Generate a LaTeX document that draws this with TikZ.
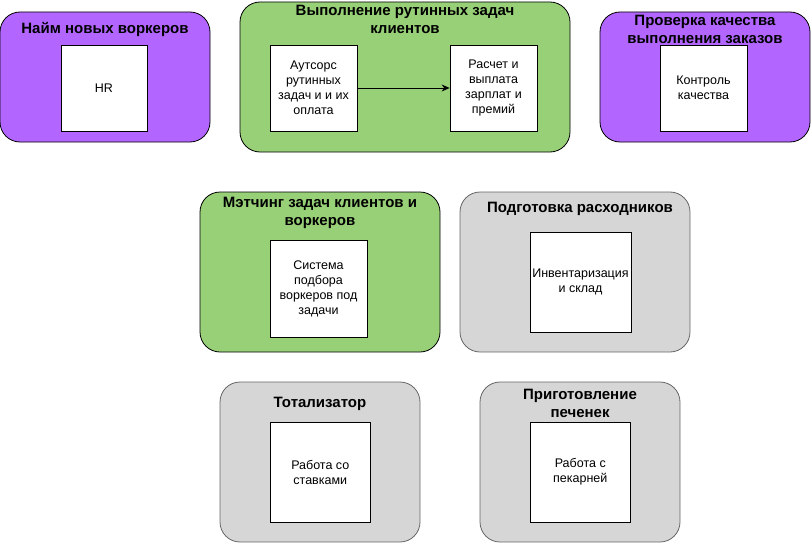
\documentclass[tikz,border=0pt]{standalone}
\usepackage{fontspec}
\setmainfont{Liberation Sans}
\usetikzlibrary{arrows.meta}
\definecolor{purp}{HTML}{B266FF}
\definecolor{grn}{HTML}{97D077}
\definecolor{gry}{HTML}{D6D6D6}
\definecolor{gbd}{HTML}{666666}
\tikzset{
  cont/.style={draw=black, line width=0.8pt, rounded corners=20pt, inner sep=0pt},
  purpbox/.style={cont, fill=purp},
  grnbox/.style={cont, fill=grn},
  grybox/.style={cont, fill=gry, draw=gbd},
  ttl/.style={font=\fontsize{15}{18}\selectfont\bfseries, align=center, inner sep=0pt},
  inbox/.style={draw=black, fill=white, line width=0.8pt, inner sep=0pt, align=center,
    font=\fontsize{12.5}{15}\selectfont},
  arr/.style={-{Stealth[length=8pt,width=7pt]}, line width=0.8pt}
}
\begin{document}
\begin{tikzpicture}[x=1pt,y=-1pt]
\useasboundingbox (0,0) rectangle (811,543);
% containers
\node[purpbox, minimum width=210pt, minimum height=130pt] (c1) at (105,77) {};
\node[grnbox, minimum width=330pt, minimum height=150pt] (c2) at (405,77) {};
\node[purpbox, minimum width=210pt, minimum height=130pt] (c3) at (705,77) {};
\node[grnbox, minimum width=240pt, minimum height=160pt] (c4) at (320,272) {};
\node[grybox, minimum width=230pt, minimum height=160pt] (c5) at (575,272) {};
\node[grybox, minimum width=200pt, minimum height=160pt] (c6) at (320,462) {};
\node[grybox, minimum width=200pt, minimum height=160pt] (c7) at (580,462) {};
% titles
\node[ttl] (t1) at (105,29) {Найм новых воркеров};
\node[ttl] (t2) at (405,19) {Выполнение рутинных задач\\клиентов};
\node[ttl] (t3) at (705,29) {Проверка качества\\выполнения заказов};
\node[ttl] (t4) at (320,212.5) {Мэтчинг задач клиентов и\\воркеров};
\node[ttl] (t5) at (580,209) {Подготовка расходников};
\node[ttl] (t6) at (320,404) {Тотализатор};
\node[ttl] (t7) at (580,403) {Приготовление\\печенек};
% inner boxes
\node[inbox, minimum width=86pt, minimum height=86pt] (i1) at (104,88) {HR};
\node[inbox, minimum width=87pt, minimum height=86pt] (i2a) at (313.5,88) {Аутсорс\\рутинных\\задач и и их\\оплата};
\node[inbox, minimum width=87pt, minimum height=86pt] (i2b) at (493.5,88) {Расчет и\\выплата\\зарплат и\\премий};
\node[inbox, minimum width=87pt, minimum height=86pt] (i3) at (703.5,88) {Контроль\\качества};
\node[inbox, minimum width=97pt, minimum height=97pt] (i4) at (318.5,288.5) {Система\\подбора\\воркеров под\\задачи};
\node[inbox, minimum width=101pt, minimum height=100pt] (i5) at (580.5,282) {Инвентаризация\\и склад};
\node[inbox, minimum width=100pt, minimum height=100pt] (i6) at (320.3,472) {Работа со\\ставками};
\node[inbox, minimum width=100pt, minimum height=100pt] (i7) at (580.3,472) {Работа с\\пекарней};
% connector
\draw[arr] (i2a) -- (i2b);
\end{tikzpicture}
\end{document}
